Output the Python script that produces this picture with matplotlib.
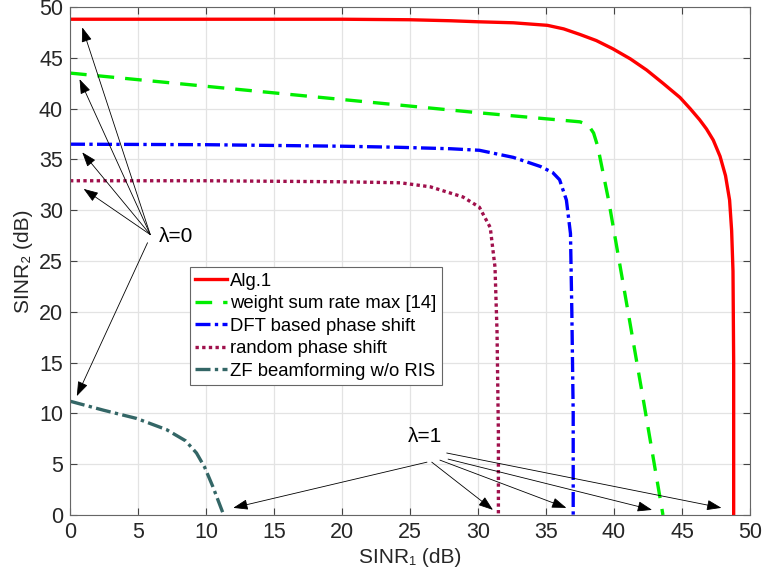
import matplotlib
matplotlib.use("Agg")
import matplotlib.pyplot as plt

# 曲線データ
x_alg = [0, 10, 20, 25, 28, 30, 32.6, 35.1, 36.3, 37.5, 38.7, 39.9, 41.2, 42.4, 43.6,
         44.85, 45.6, 46.3, 46.8, 47.3, 47.8, 48.2, 48.5, 48.65, 48.75, 48.8, 48.8]
y_alg = [48.8, 48.8, 48.8, 48.75, 48.65, 48.55, 48.45, 48.2, 47.85, 47.3, 46.7, 45.9, 44.9,
         43.8, 42.5, 41.1, 40.0, 38.9, 38.0, 36.9, 35.3, 33.4, 31.0, 28.0, 24.0, 15.0, 0]

x_wsr = [0, 10, 20, 30, 37.5, 38.1, 38.5, 38.8, 39.6, 40.8, 42.2, 43.6]
y_wsr = [43.5, 42.2, 40.9, 39.6, 38.7, 38.4, 37.6, 36.3, 31.0, 21.8, 11.0, 0]

x_dft = [0, 10, 20, 24, 28, 30.1, 32.6, 34.6, 35.5, 36.0, 36.5, 36.8, 36.9, 37.0, 37.0]
y_dft = [36.5, 36.45, 36.3, 36.2, 36.05, 35.9, 35.2, 34.3, 33.7, 33.0, 31.0, 27.7, 20.0, 10.0, 0]

x_rnd = [0, 10, 20, 24.3, 26.5, 28.9, 30.1, 30.9, 31.25, 31.4, 31.5, 31.5]
y_rnd = [32.9, 32.9, 32.8, 32.7, 32.3, 31.3, 30.3, 28.3, 24.4, 18.0, 8.0, 0]

x_zf = [0, 2.5, 4.9, 7.1, 8.5, 9.3, 9.9, 10.5, 11.3]
y_zf = [11.2, 10.3, 9.5, 8.4, 7.3, 6.1, 4.7, 2.8, 0]

labels = ["Alg.1", "weight sum rate max [14]", "DFT based phase shift",
          "random phase shift", "ZF beamforming w/o RIS"]

# 注釈の矢印先端（λ=0 / λ=1）
lam0_tips = [(0.9, 48.0), (0.7, 42.9), (0.9, 35.7), (1.0, 32.1), (0.5, 11.7)]
lam0_tails = [(5.9, 27.6), (5.9, 27.6), (5.9, 27.6), (5.9, 27.6), (5.7, 26.8)]
lam1_tips = [(12.0, 0.7), (31.1, 0.5), (36.5, 0.7), (42.8, 0.5), (47.9, 0.7)]
lam1_tails = [(26.25, 5.2), (26.6, 5.2), (27.2, 5.4), (27.8, 5.5), (27.7, 6.1)]

plt.rcParams["font.family"] = ["Liberation Sans", "DejaVu Sans"]

fig = plt.figure(figsize=(7.66, 5.87), dpi=100)
ax = fig.add_axes([0.0914, 0.1227, 0.8877, 0.8653])

dashdot = (0, (4.5, 1.3, 1, 1.3))
ax.plot(x_alg, y_alg, color="#ff0000", lw=2.4, ls="-", label=labels[0])
ax.plot(x_wsr, y_wsr, color="#00ee00", lw=2.4, ls=(0, (5, 3.3)), label=labels[1])
ax.plot(x_dft, y_dft, color="#0000ff", lw=2.4, ls=dashdot, label=labels[2])
ax.plot(x_rnd, y_rnd, color="#a0104c", lw=2.4, ls=(0, (1, 1)), label=labels[3])
ax.plot(x_zf, y_zf, color="#336666", lw=2.4, ls=dashdot, label=labels[4])

ax.set_xlim(0, 50)
ax.set_ylim(0, 50)
ax.set_xticks(range(0, 51, 5))
ax.set_yticks(range(0, 51, 5))
ax.grid(True, color="#e3e3e3", lw=0.9)
ax.set_axisbelow(True)
ax.tick_params(direction="in", top=True, right=True, labelsize=15.5, length=5,
               color="#444444", labelcolor="#262626", pad=5)
for s in ax.spines.values():
    s.set_color("#666666")
    s.set_linewidth(0.8)
ax.set_xlabel("SINR₁ (dB)", fontsize=15, color="#262626", labelpad=4)
ax.set_ylabel("SINR₂ (dB)", fontsize=15, color="#262626", labelpad=4)

arrow = dict(arrowstyle="-|>,head_length=0.9,head_width=0.32", color="k", lw=0.6,
             shrinkA=0, shrinkB=0)
for tip, tail in zip(lam0_tips, lam0_tails):
    ax.annotate("", xy=tip, xytext=tail, arrowprops=arrow)
for tip, tail in zip(lam1_tips, lam1_tails):
    ax.annotate("", xy=tip, xytext=tail, arrowprops=arrow)
ax.text(7.8, 27.4, "λ=0", fontsize=15, ha="center", va="center")
ax.text(26.1, 7.7, "λ=1", fontsize=15, ha="center", va="center")

leg = ax.legend(loc="upper left", bbox_to_anchor=(0.176, 0.488), fontsize=13.3,
                frameon=True, fancybox=False, edgecolor="#666666", framealpha=1,
                handlelength=1.7, handletextpad=0.2, borderpad=0.3,
                labelspacing=0.3, borderaxespad=0)
leg.get_frame().set_linewidth(0.8)

fig.savefig("out.png", dpi=100)
